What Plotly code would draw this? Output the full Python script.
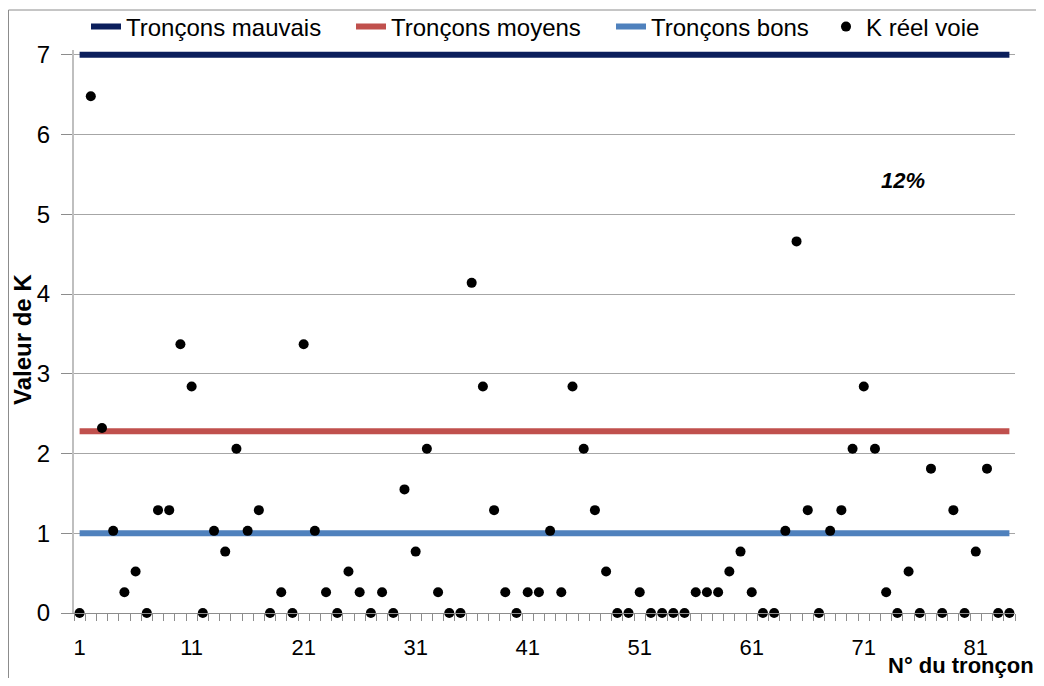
import plotly.graph_objects as go

troncons = list(range(1, 85))
k_reel = [0, 6.48, 2.32, 1.03, 0.26, 0.52, 0, 1.29, 1.29, 3.37,
          2.84, 0, 1.03, 0.77, 2.06, 1.03, 1.29, 0, 0.26, 0,
          3.37, 1.03, 0.26, 0, 0.52, 0.26, 0, 0.26, 0, 1.55,
          0.77, 2.06, 0.26, 0, 0, 4.14, 2.84, 1.29, 0.26, 0,
          0.26, 0.26, 1.03, 0.26, 2.84, 2.06, 1.29, 0.52, 0, 0,
          0.26, 0, 0, 0, 0, 0.26, 0.26, 0.26, 0.52, 0.77,
          0.26, 0, 0, 1.03, 4.66, 1.29, 0, 1.03, 1.29, 2.06,
          2.84, 2.06, 0.26, 0, 0.52, 0, 1.81, 0, 1.29, 0,
          0.77, 1.81, 0, 0]
seuil_mauvais = [7.0] * len(troncons)
seuil_moyen = [2.28] * len(troncons)
seuil_bon = [1.0] * len(troncons)
x_tick_labels = [1, 11, 21, 31, 41, 51, 61, 71, 81]
y_tick_labels = [0, 1, 2, 3, 4, 5, 6, 7]

FONT = "Liberation Sans, Arial, sans-serif"

# the page body has an 8px margin: keep the figure inside the window without scrollbars
W, H = 1028, 670
ML, MR, MT, MB = 66, 21, 42, 65
PW, PH = W - ML - MR, H - MT - MB


def px(page_x):
    return (page_x - 8 - ML) / PW


def py(page_y):
    return (H - MB - (page_y - 8)) / PH


def leg(page_x):
    return dict(orientation="h", x=px(page_x), xanchor="left", y=py(27), yanchor="middle",
                font=dict(size=24, family=FONT), itemwidth=30, bgcolor="rgba(0,0,0,0)")


fig = go.Figure()
fig.add_trace(go.Scatter(x=troncons, y=seuil_mauvais, mode="lines", name="Tronçons mauvais",
                         line=dict(color="#0b1f5c", width=6), legend="legend"))
fig.add_trace(go.Scatter(x=troncons, y=seuil_moyen, mode="lines", name="Tronçons moyens",
                         line=dict(color="#c0504d", width=6), legend="legend2"))
fig.add_trace(go.Scatter(x=troncons, y=seuil_bon, mode="lines", name="Tronçons bons",
                         line=dict(color="#4f81bd", width=6), legend="legend3"))
fig.add_trace(go.Scatter(x=troncons, y=k_reel, mode="markers", name="K réel voie",
                         marker=dict(color="black", size=10), cliponaxis=False,
                         legend="legend4"))

fig.update_layout(
    width=W, height=H,
    margin=dict(l=ML, r=MR, t=MT, b=MB, autoexpand=False),
    paper_bgcolor="white", plot_bgcolor="white",
    font=dict(family=FONT, color="black"),
    showlegend=True,
    legend=leg(86), legend2=leg(351), legend3=leg(611), legend4=leg(826),
    xaxis=dict(range=[0.5, 84.5], tickmode="array", tickvals=x_tick_labels,
               ticks="", showgrid=False, zeroline=False,
               showline=True, linecolor="#8c8c8c", linewidth=1,
               tickfont=dict(size=22, family=FONT), ticklabelstandoff=15,
               minor=dict(tickmode="linear", tick0=0.5, dtick=1, ticks="outside",
                          ticklen=7, tickcolor="#8c8c8c", tickwidth=1, showgrid=False)),
    yaxis=dict(range=[0, 7.06], tickmode="array", tickvals=y_tick_labels,
               ticks="outside", ticklen=11, tickcolor="#8c8c8c",
               showgrid=True, gridcolor="#a6a6a6", gridwidth=1, zeroline=False,
               showline=True, linecolor="#bfbfbf", linewidth=2,
               tickfont=dict(size=24, family=FONT), ticklabelstandoff=6),
    annotations=[
        dict(text="<b>Valeur de K</b>", textangle=-90, xref="paper", yref="paper",
             x=px(23), y=py(340), xanchor="center", yanchor="middle", showarrow=False,
             font=dict(size=24, family=FONT)),
        dict(text="<b>N° du tronçon</b>", xref="paper", yref="paper",
             x=px(886), y=py(665), xanchor="left", yanchor="middle",
             showarrow=False, font=dict(size=22, family=FONT)),
        dict(text="<b><i>12%</i></b>", xref="x", yref="y", x=74.5, y=5.42,
             showarrow=False, font=dict(size=22, family=FONT)),
    ],
    shapes=[
        dict(type="line", xref="paper", yref="paper",
             x0=px(8.5), x1=px(1036),
             y0=py(10), y1=py(10),
             line=dict(color="#8c8c8c", width=1)),
        dict(type="line", xref="paper", yref="paper",
             x0=px(8.5), x1=px(8.5),
             y0=py(10), y1=py(678),
             line=dict(color="#8c8c8c", width=1)),
    ],
)

fig.write_html("out.html")
